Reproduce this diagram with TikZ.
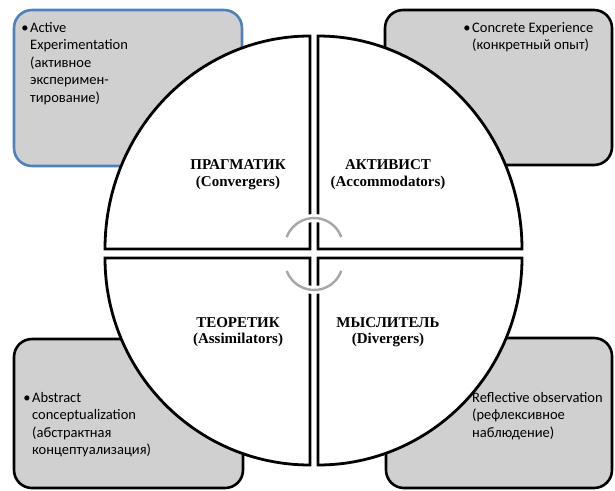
\documentclass[tikz,border=0pt]{standalone}
\usepackage{fontspec}
\setmainfont{Liberation Serif}
\newfontfamily\notefont{Carlito}
\usepackage{tikz}
\definecolor{boxgray}{RGB}{208,208,208}
\definecolor{boxblue}{RGB}{79,129,189}
\definecolor{arcgray}{RGB}{166,166,166}

\begin{document}
\begin{tikzpicture}[x=1pt,y=-1pt,
    every node/.style={inner sep=0pt},
    box/.style={draw=black,line width=2.6pt,fill=boxgray,rounded corners=18pt},
    quarter/.style={draw=black,line width=2.8pt,fill=white},
    title/.style={font=\bfseries\fontsize{15}{17}\selectfont,anchor=base},
    note/.style={font=\notefont\fontsize{14.5}{17.5}\selectfont,align=left,anchor=base west}]
    \useasboundingbox (0,0) rectangle (615,490);

    % boxes
    \draw[box,draw=boxblue] (14,10) rectangle (242,166);
    \draw[box] (385,10) rectangle (612,165);
    \draw[box] (14,339) rectangle (243,488);
    \draw[box] (386,338) rectangle (612,488);

    % circle
    \draw[quarter] (310,249) -- ++(-205,0) arc[start angle=180,end angle=270,x radius=205,y radius=213] -- cycle;
    \draw[quarter] (318,249) -- ++(0,-213) arc[start angle=270,end angle=360,x radius=204,y radius=213] -- cycle;
    \draw[quarter] (318,258) -- ++(204,0) arc[start angle=0,end angle=90,x radius=204,y radius=207] -- cycle;
    \draw[quarter] (310,258) -- ++(0,207) arc[start angle=90,end angle=180,x radius=205,y radius=207] -- cycle;

    % arrows in the middle
    \foreach \cy/\a/\b in {247/200/340, 261/160/20}{
        \draw[white,line width=8pt] (314,\cy) ++(\a:29) arc[start angle=\a,end angle=\b,radius=29];
        \draw[arcgray,line width=2.4pt] (314,\cy) ++(\a:29) arc[start angle=\a,end angle=\b,radius=29];
    }

    % styles
    \node[title] (P) at (238,169) {ПРАГМАТИК};
    \node[title] (P en) at (238,186) {(Convergers)};
    \node[title] (A) at (388,169) {АКТИВИСТ};
    \node[title] (A en) at (388,186) {(Accommodators)};
    \node[title] (T) at (238,327) {ТЕОРЕТИК};
    \node[title] (T en) at (238,343) {(Assimilators)};
    \node[title] (M) at (388,327) {МЫСЛИТЕЛЬ};
    \node[title] (M en) at (388,343) {(Divergers)};

    % notes (anchored at the last line)
    \node[note] (ae) at (30,102) {\llap{\textbullet\kern1.5pt}Active\\Experimentation\\(активное\\эксперимен-\\тирование)};
    \node[note] (ce) at (472,49.5) {\llap{\textbullet\kern1.5pt}Concrete Experience\\(конкретный опыт)};
    \node[note] (ac) at (32,454.5) {\llap{\textbullet\kern1.5pt}Abstract\\conceptualization\\(абстрактная\\концептуализация)};
    \node[note] (ro) at (472,437) {Reflective observation\\(рефлексивное\\наблюдение)};
\end{tikzpicture}
\end{document}
